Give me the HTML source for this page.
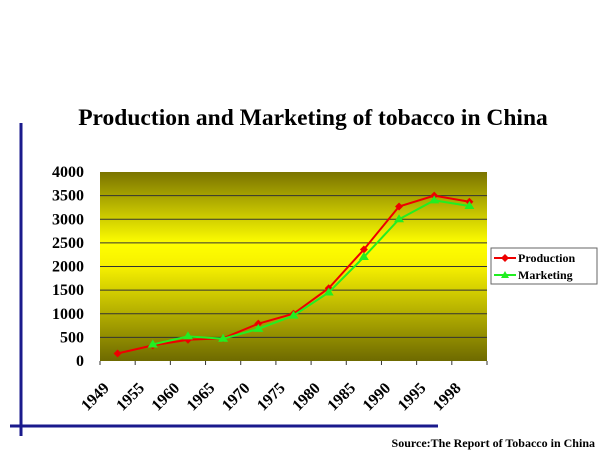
<!DOCTYPE html>
<html><head><meta charset="utf-8"><style>
body{margin:0;background:#fff;}
svg{display:block;font-family:"Liberation Serif",serif;font-weight:bold;}
</style></head><body>
<svg width="616" height="462" viewBox="0 0 616 462">
<defs>
<linearGradient id="bg" x1="0" y1="0" x2="0" y2="1">
<stop offset="0" stop-color="#7a7400"/>
<stop offset="0.38" stop-color="#ffff00"/>
<stop offset="0.5" stop-color="#f6f000"/>
<stop offset="1" stop-color="#6e6a00"/>
</linearGradient>
</defs>
<text x="313" y="125" text-anchor="middle" font-size="23.5">Production and Marketing of tobacco in China</text>
<line x1="21" y1="123" x2="21" y2="436" stroke="#1a1a8c" stroke-width="3"/>
<line x1="10" y1="426" x2="438" y2="426" stroke="#1a1a8c" stroke-width="3"/>
<rect x="100" y="172" width="387" height="189" fill="url(#bg)"/>
<g id="grid"></g>
<g id="yt"></g>
<g id="xt"></g>
<g id="series"></g>
<rect x="491" y="248" width="106" height="36" fill="#fff" stroke="#666" stroke-width="1"/>
<g>
<line x1="494" y1="258" x2="516" y2="258" stroke="#ee0000" stroke-width="2"/>
<path d="M505 254 L509 258 L505 262 L501 258Z" fill="#ee0000"/>
<text x="518" y="262" font-size="12">Production</text></g>
<g>
<line x1="494" y1="275" x2="516" y2="275" stroke="#22ee22" stroke-width="2"/>
<path d="M505 271 L509 278 L501 278Z" fill="#22ee22"/>
<text x="518" y="279" font-size="12">Marketing</text></g>
<text x="595" y="447" text-anchor="end" font-size="12">Source:The Report of Tobacco in China</text>
</svg>
<script>
const categories=["1949","1955","1960","1965","1970","1975","1980","1985","1990","1995","1998"];
const production=[160,330,450,480,790,1000,1540,2360,3270,3500,3370];
const marketing=[null,350,520,470,680,960,1450,2200,3000,3400,3280];
const yTicks=[0,500,1000,1500,2000,2500,3000,3500,4000];
const NS="http://www.w3.org/2000/svg";
const L=100,R=487,T=172,B=361,YMAX=4000;
const step=(R-L)/categories.length;
const xs=i=>L+step*(i+0.5);
const ys=v=>B-(v/YMAX)*(B-T);
function mk(tag,attrs,parent){const e=document.createElementNS(NS,tag);for(const k in attrs)e.setAttribute(k,attrs[k]);document.getElementById(parent).appendChild(e);return e;}
yTicks.forEach(v=>{
 if(v>0&&v<YMAX){const g=mk('line',{x1:L,x2:R,y1:ys(v),y2:ys(v),stroke:'#333','stroke-width':1},'grid');
 
 }
 const t=mk('text',{x:L-16,y:ys(v)+5,'text-anchor':'end','font-size':16},'yt');t.textContent=v;
 
 
});
for(let i=0;i<=categories.length;i++){const l=mk('line',{x1:L+step*i,x2:L+step*i,y1:B,y2:B+4,stroke:'#333'},'xt');
 
 }
categories.forEach((c,i)=>{const x=L+step*i+10,y=B+28;
 const t=mk('text',{x:x,y:y,'text-anchor':'end','font-size':16,transform:`rotate(-45 ${x} ${y})`},'xt');t.textContent=c;
 
 });
function series(arr,color,name,marker){
 let d='';arr.forEach((v,i)=>{if(v==null)return;d+=(d?'L':'M')+xs(i)+' '+ys(v)+' ';});
 const p=mk('path',{d:d,fill:'none',stroke:color,'stroke-width':2},'series');
 
 
 arr.forEach((v,i)=>{if(v==null)return;const x=xs(i),y=ys(v);
  const dd=marker==='d'?`M${x} ${y-4}L${x+4} ${y}L${x} ${y+4}L${x-4} ${y}Z`:`M${x} ${y-5}L${x+5} ${y+3}L${x-5} ${y+3}Z`;
  const m=mk('path',{d:dd,fill:color},'series');
  
  });
}
series(production,'#ee0000','production','d');
series(marketing,'#22ee22','marketing','t');
</script>
</body></html>
